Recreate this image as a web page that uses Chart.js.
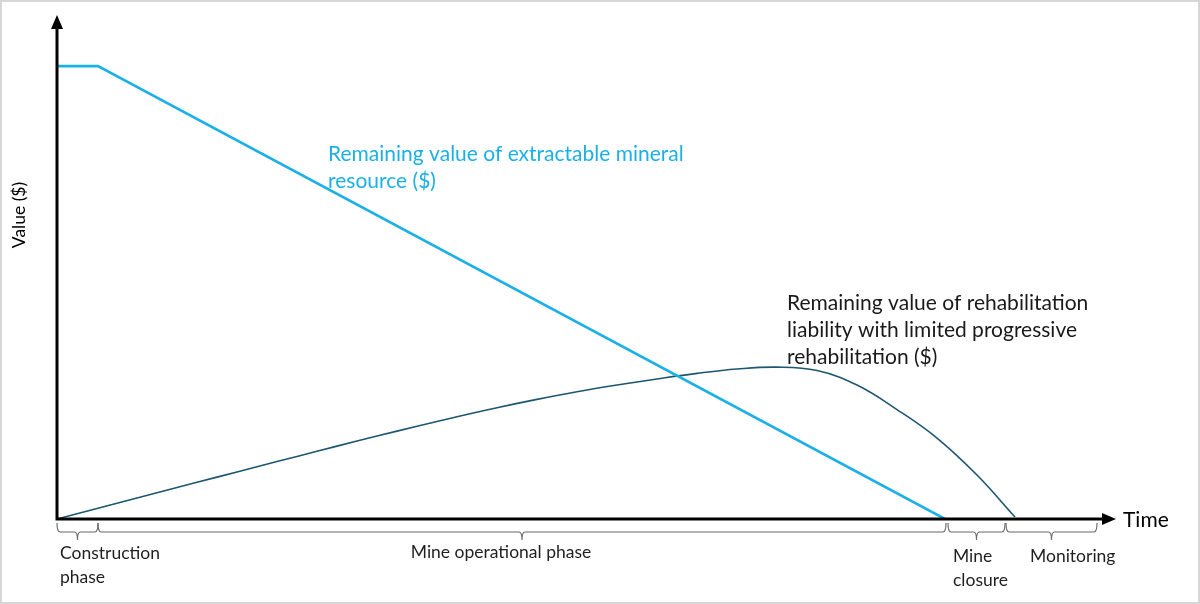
<!DOCTYPE html>
<html>
<head>
<meta charset="utf-8">
<title>Mine value over time</title>
<script src="https://cdn.jsdelivr.net/npm/chart.js@4.4.1/dist/chart.umd.min.js"></script>
<style>
  html, body { margin: 0; padding: 0; background: #fff; }
  #wrap { width: 1200px; height: 604px; position: relative; }
</style>
</head>
<body>
<div id="wrap"><canvas id="c" width="1200" height="604"></canvas></div>
<script>
// Remaining value of the extractable mineral resource (time, value)
const resourceTime  = [0, 4.1, 88.8];
const resourceValue = [100, 100, 0];

// Remaining rehabilitation liability with limited progressive rehabilitation
const liabilityTime  = [0, 4, 8, 12, 16, 20, 24, 28, 32, 36, 40, 44, 48, 52, 56, 60, 64, 68, 72,
                        76, 80, 84, 88, 92, 95.8];
const liabilityValue = [0, 2.33, 4.64, 6.95, 9.25, 11.54, 13.82, 16.09, 18.31, 20.48, 22.59, 24.58, 26.42,
                        28.10, 29.58, 30.92, 32.15, 33.12, 33.54, 32.78, 29.58, 24.17, 17.88, 9.71, 0.44];

// Project phases along the time axis
const phaseNames  = [["Construction", "phase"], ["Mine operational phase"], ["Mine", "closure"], ["Monitoring"]];
const phaseStart  = [0, 4.1, 89.1, 94.9];
const phaseEnd    = [4.1, 88.9, 94.8, 104];

const resourceLabel  = ["Remaining value of extractable mineral", "resource ($)"];
const liabilityLabel = ["Remaining value of rehabilitation", "liability with limited progressive", "rehabilitation ($)"];

const FONT = 'Lato, "Open Sans", sans-serif';
const BLUE = '#1cb0e6';
const TEAL = '#1d5670';

function pts(xs, ys) { return xs.map((x, i) => ({ x: x, y: ys[i] })); }

const decorations = {
  id: 'decorations',
  afterDatasetsDraw(chart) {
    const ctx = chart.ctx;
    const xs = chart.scales.x, ys = chart.scales.y;
    const x0 = xs.getPixelForValue(0), y0 = ys.getPixelForValue(0);
    const area = chart.chartArea;
    ctx.save();

    // outer frame
    ctx.strokeStyle = '#d6d6d6';
    ctx.lineWidth = 2;
    ctx.strokeRect(1, 1, chart.width - 2, chart.height - 2);

    // axes with arrowheads
    ctx.strokeStyle = '#000';
    ctx.fillStyle = '#000';
    ctx.lineWidth = 3;
    ctx.beginPath();
    ctx.moveTo(x0, y0 + 1.5);
    ctx.lineTo(x0, area.top + 12);
    ctx.moveTo(x0 - 1.5, y0);
    ctx.lineTo(area.right - 10, y0);
    ctx.stroke();
    ctx.beginPath();
    ctx.moveTo(x0, area.top);
    ctx.lineTo(x0 - 6, area.top + 14);
    ctx.lineTo(x0 + 6, area.top + 14);
    ctx.closePath();
    ctx.fill();
    ctx.beginPath();
    ctx.moveTo(area.right + 3, y0);
    ctx.lineTo(area.right - 11, y0 - 6);
    ctx.lineTo(area.right - 11, y0 + 6);
    ctx.closePath();
    ctx.fill();

    // phase braces
    ctx.strokeStyle = '#6b6b6b';
    ctx.lineWidth = 1.2;
    phaseNames.forEach((name, i) => {
      const a = xs.getPixelForValue(phaseStart[i]);
      const b = xs.getPixelForValue(phaseEnd[i]);
      const m = (a + b) / 2;
      const top = y0 + 4, line = y0 + 13, tip = y0 + 21;
      ctx.beginPath();
      ctx.moveTo(a, top);
      ctx.quadraticCurveTo(a, line, a + 3, line);
      ctx.lineTo(m - 3, line);
      ctx.quadraticCurveTo(m, line, m, tip);
      ctx.quadraticCurveTo(m, line, m + 3, line);
      ctx.lineTo(b - 3, line);
      ctx.quadraticCurveTo(b, line, b, top);
      ctx.stroke();
    });
    // phase labels
    ctx.fillStyle = '#1f1f1f';
    ctx.font = '17.5px ' + FONT;
    ctx.textBaseline = 'middle';
    ctx.textAlign = 'left';
    ctx.fillText(phaseNames[0][0], x0 + 3, 553);
    ctx.fillText(phaseNames[0][1], x0 + 3, 577);
    ctx.textAlign = 'center';
    ctx.fillText(phaseNames[1][0], xs.getPixelForValue((phaseStart[1] + phaseEnd[1]) / 2) - 21, 552);
    ctx.textAlign = 'left';
    ctx.fillText(phaseNames[2][0], xs.getPixelForValue(phaseStart[2]) + 5, 556);
    ctx.fillText(phaseNames[2][1], xs.getPixelForValue(phaseStart[2]) + 5, 580);
    ctx.fillText(phaseNames[3][0], xs.getPixelForValue(phaseStart[3]) + 24, 556);

    // axis titles
    ctx.font = '21px ' + FONT;
    ctx.fillStyle = '#000';
    ctx.textAlign = 'left';
    ctx.fillText('Time', area.right + 10, y0 + 1);
    ctx.save();
    ctx.translate(19, 215);
    ctx.rotate(-Math.PI / 2);
    ctx.textAlign = 'center';
    ctx.font = '17.5px ' + FONT;
    ctx.fillText('Value ($)', 0, 0);
    ctx.restore();

    // series annotations
    ctx.font = '21px ' + FONT;
    ctx.textAlign = 'left';
    ctx.fillStyle = BLUE;
    resourceLabel.forEach((t, i) => ctx.fillText(t, 328, 154 + i * 27));
    ctx.fillStyle = '#1a1a1a';
    liabilityLabel.forEach((t, i) => ctx.fillText(t, 787, 303 + i * 27));

    ctx.restore();
  }
};

new Chart(document.getElementById('c'), {
  type: 'scatter',
  data: {
    datasets: [
      {
        label: 'Remaining value of extractable mineral resource ($)',
        data: pts(resourceTime, resourceValue),
        showLine: true,
        borderColor: BLUE,
        borderWidth: 2.6,
        pointRadius: 0,
        tension: 0
      },
      {
        label: 'Remaining value of rehabilitation liability ($)',
        data: pts(liabilityTime, liabilityValue),
        showLine: true,
        borderColor: TEAL,
        borderWidth: 1.6,
        pointRadius: 0,
        tension: 0.4
      }
    ]
  },
  options: {
    responsive: false,
    animation: false,
    layout: { padding: { left: 57, right: 87, top: 15, bottom: 85 } },
    plugins: { legend: { display: false }, tooltip: { enabled: false } },
    scales: {
      x: { type: 'linear', min: 0, max: 105.6, display: false },
      y: { type: 'linear', min: 0, max: 111.3, display: false }
    }
  },
  plugins: [decorations]
});
</script>
</body>
</html>
